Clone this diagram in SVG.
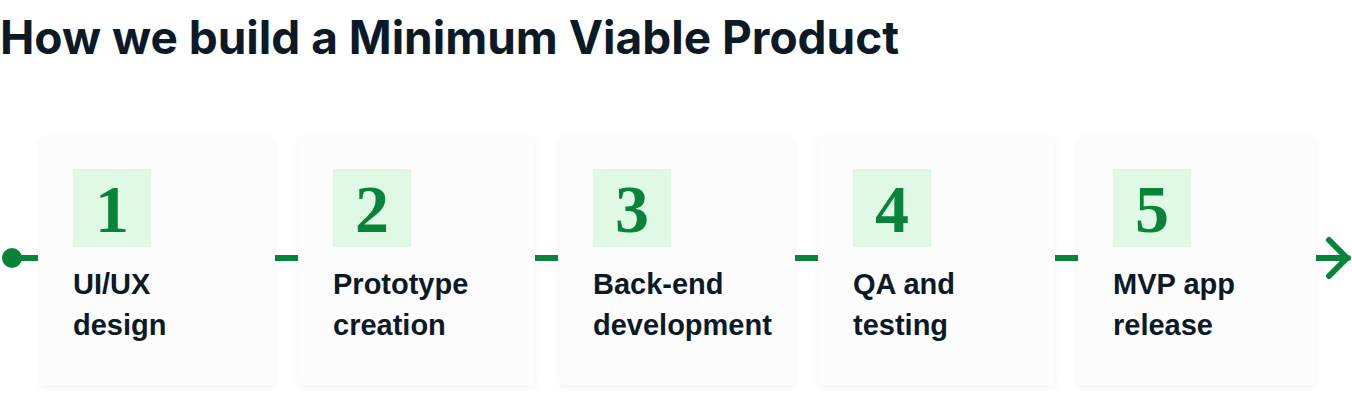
<svg xmlns="http://www.w3.org/2000/svg" width="1352" height="403" viewBox="0 0 1352 403">
<defs>
<filter id="sh" x="-10%" y="-10%" width="120%" height="120%">
<feDropShadow dx="0" dy="2" stdDeviation="3" flood-color="#000" flood-opacity="0.05"/>
</filter>
</defs>
<style>
.card{fill:#fcfcfc;filter:url(#sh);}
.nbox{fill:#dff9e4;}
.num{font-family:"Liberation Serif",serif;font-weight:bold;font-size:68px;fill:#08843a;text-anchor:middle;}
.lbl{font-family:"Liberation Sans",Arial,sans-serif;font-weight:bold;font-size:29px;fill:#0c1a28;}
.title{font-family:Inter,"Liberation Sans",sans-serif;font-weight:bold;font-size:46px;fill:#0c1a28;}
.conn{stroke:#08843a;stroke-width:6;fill:none;}
</style>
<rect width="1352" height="403" fill="#ffffff"/>
<text class="title" x="0" y="54">How we build a Minimum Viable Product</text>
<g id="connectors">
<circle cx="12" cy="258" r="10" fill="#08843a"/>
<line class="conn" x1="12" y1="258" x2="38" y2="258"/>
<line class="conn" x1="275" y1="258" x2="298" y2="258"/>
<line class="conn" x1="535" y1="258" x2="558" y2="258"/>
<line class="conn" x1="795" y1="258" x2="818" y2="258"/>
<line class="conn" x1="1055" y1="258" x2="1078" y2="258"/>
<path class="conn" d="M1315 258 H1348 M1329 240 L1347 258 L1329 276" stroke-width="5" stroke-linecap="round" stroke-linejoin="round"/>
</g>
<g id="step1">
<rect class="card" x="40" y="137" width="235" height="248"/>
<rect class="nbox" x="73" y="169" width="78" height="78"/>
<text class="num" x="112" y="232">1</text>
<text class="lbl" x="73" y="294">UI/UX</text>
<text class="lbl" x="73" y="335">design</text>
</g>
<g id="step2">
<rect class="card" x="299" y="137" width="236" height="248"/>
<rect class="nbox" x="333" y="169" width="78" height="78"/>
<text class="num" x="372" y="232">2</text>
<text class="lbl" x="333" y="294">Prototype</text>
<text class="lbl" x="333" y="335">creation</text>
</g>
<g id="step3">
<rect class="card" x="559" y="137" width="236" height="248"/>
<rect class="nbox" x="593" y="169" width="78" height="78"/>
<text class="num" x="632" y="232">3</text>
<text class="lbl" x="593" y="294">Back-end</text>
<text class="lbl" x="593" y="335">development</text>
</g>
<g id="step4">
<rect class="card" x="818" y="137" width="237" height="248"/>
<rect class="nbox" x="853" y="169" width="78" height="78"/>
<text class="num" x="892" y="232">4</text>
<text class="lbl" x="853" y="294">QA and</text>
<text class="lbl" x="853" y="335">testing</text>
</g>
<g id="step5">
<rect class="card" x="1078" y="137" width="238" height="248"/>
<rect class="nbox" x="1113" y="169" width="78" height="78"/>
<text class="num" x="1152" y="232">5</text>
<text class="lbl" x="1113" y="294">MVP app</text>
<text class="lbl" x="1113" y="335">release</text>
</g>
</svg>
